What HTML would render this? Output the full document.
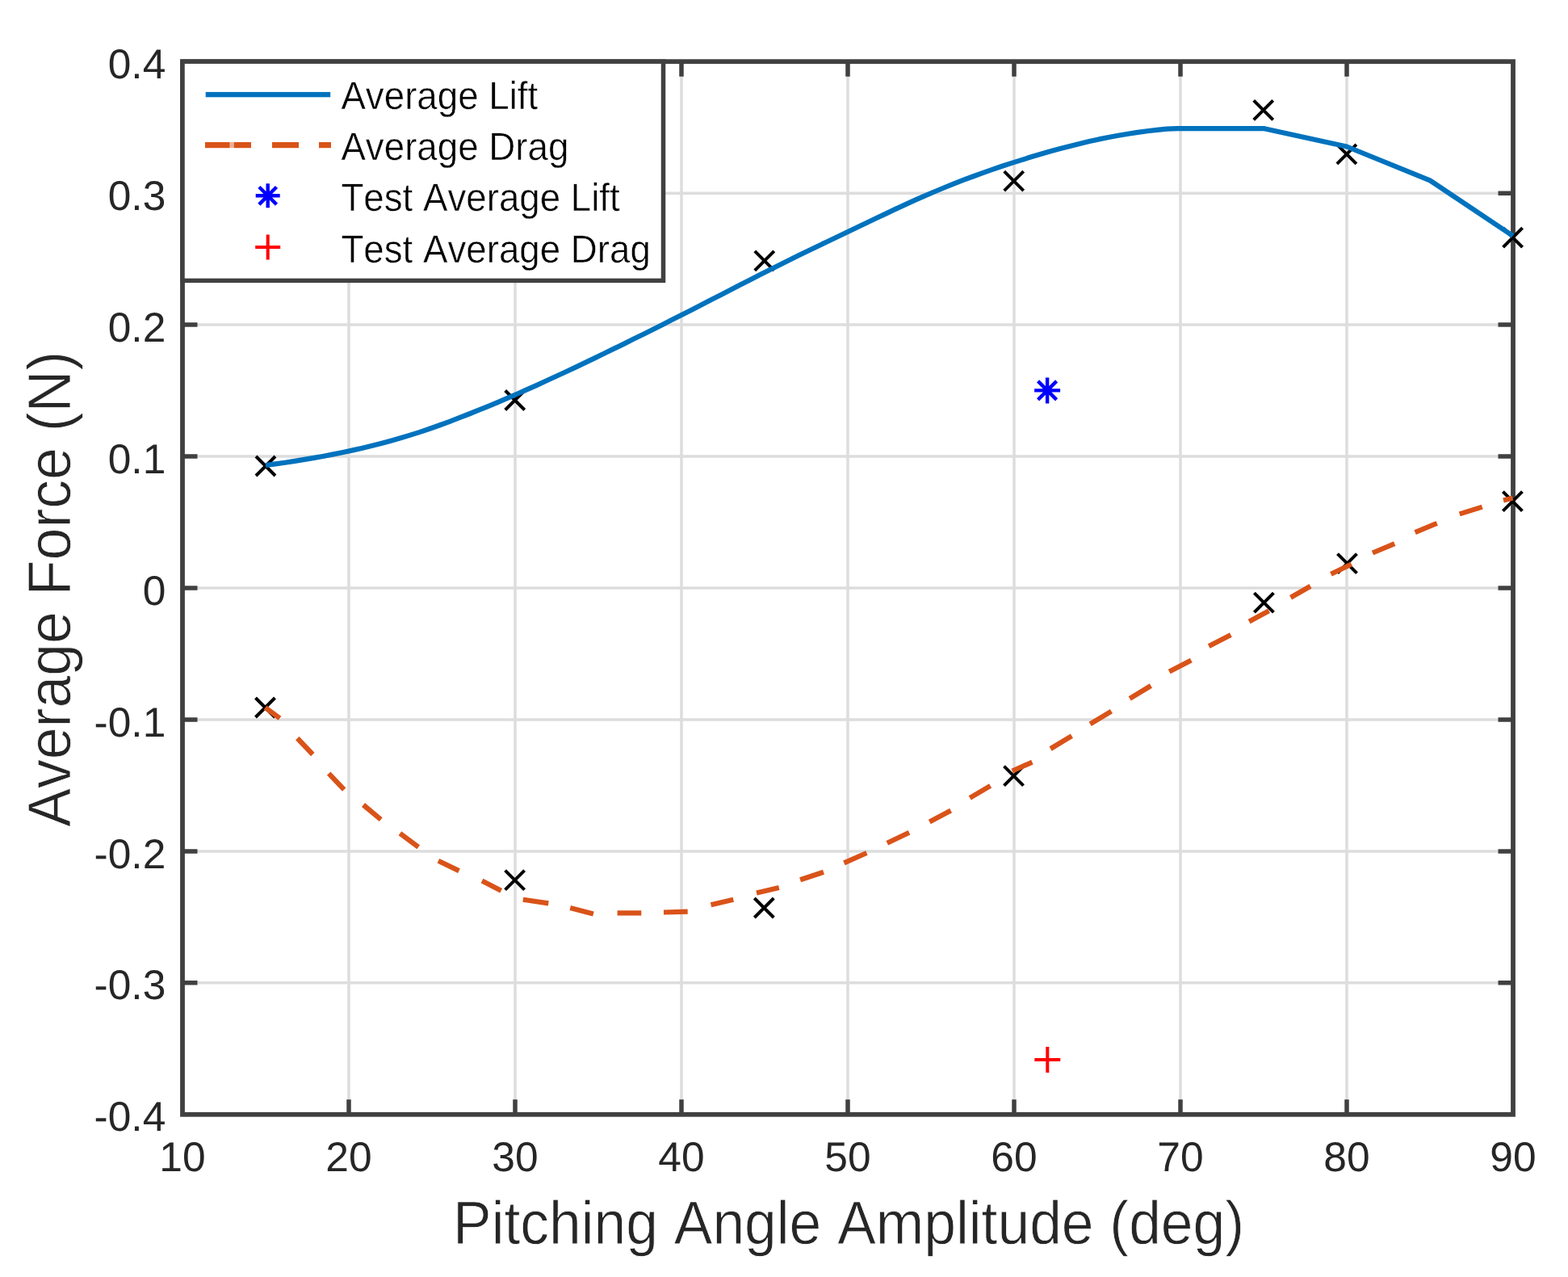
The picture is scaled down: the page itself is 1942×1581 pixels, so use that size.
<!DOCTYPE html><html><head><meta charset="utf-8"><style>html,body{margin:0;padding:0;background:#fff;overflow:hidden}svg{display:block}text{font-kerning:none;font-feature-settings:"kern" 0;text-rendering:geometricPrecision}</style></head><body>
<svg width="1942" height="1581" viewBox="0 0 1942 1581" font-family="'Liberation Sans', sans-serif">
<rect width="1942" height="1581" fill="#fff"/>
<path d="M432.0 76.2V1379.8M638.0 76.2V1379.8M844.0 76.2V1379.8M1050.0 76.2V1379.8M1256.0 76.2V1379.8M1462.0 76.2V1379.8M1668.0 76.2V1379.8M226.0 1216.8H1874.0M226.0 1053.9H1874.0M226.0 890.9H1874.0M226.0 728.0H1874.0M226.0 565.1H1874.0M226.0 402.1H1874.0M226.0 239.2H1874.0" stroke="#dddddd" stroke-width="3.5" fill="none"/>
<path d="M432.0 1379.8v-18.5M432.0 76.2v18.5M638.0 1379.8v-18.5M638.0 76.2v18.5M844.0 1379.8v-18.5M844.0 76.2v18.5M1050.0 1379.8v-18.5M1050.0 76.2v18.5M1256.0 1379.8v-18.5M1256.0 76.2v18.5M1462.0 1379.8v-18.5M1462.0 76.2v18.5M1668.0 1379.8v-18.5M1668.0 76.2v18.5M226.0 1216.8h18.5M1874.0 1216.8h-18.5M226.0 1053.9h18.5M1874.0 1053.9h-18.5M226.0 890.9h18.5M1874.0 890.9h-18.5M226.0 728.0h18.5M1874.0 728.0h-18.5M226.0 565.1h18.5M1874.0 565.1h-18.5M226.0 402.1h18.5M1874.0 402.1h-18.5M226.0 239.2h18.5M1874.0 239.2h-18.5" stroke="#404040" stroke-width="5.5" fill="none"/>
<rect x="226.0" y="76.2" width="1648.0" height="1303.6" fill="none" stroke="#404040" stroke-width="5.8"/>
<path d="M317 565L341 589M317 589L341 565M625.7 483.5L649.7 507.5M625.7 507.5L649.7 483.5M934.8 310.9L958.8 334.9M934.8 334.9L958.8 310.9M1243.7 212.2L1267.7 236.2M1243.7 236.2L1267.7 212.2M1552.7 124.4L1576.7 148.4M1552.7 148.4L1576.7 124.4M1655.9 178.8L1679.9 202.8M1655.9 202.8L1679.9 178.8M1861.6 282.2L1885.6 306.2M1861.6 306.2L1885.6 282.2M316.5 864L340.5 888M316.5 888L340.5 864M625.6 1077.7L649.6 1101.7M625.6 1101.7L649.6 1077.7M934.3 1112L958.3 1136M934.3 1136L958.3 1112M1243.5 948.6L1267.5 972.6M1243.5 972.6L1267.5 948.6M1553.4 734.2L1577.4 758.2M1553.4 758.2L1577.4 734.2M1656.5 685.7L1680.5 709.7M1656.5 709.7L1680.5 685.7M1861.4 608.6L1885.4 632.6M1861.4 632.6L1885.4 608.6" stroke="#000" stroke-width="4" fill="none"/>
<polyline points="329.0,576.0 341.0,574.4 353.0,572.7 365.0,570.9 377.0,568.9 389.0,566.9 401.0,564.7 413.0,562.4 425.0,560.0 437.0,557.4 449.0,554.7 461.0,551.8 473.0,548.7 485.0,545.4 497.0,542.0 509.0,538.4 521.0,534.6 533.0,530.5 545.0,526.3 557.0,521.8 569.0,517.2 581.0,512.5 593.0,507.7 605.0,502.8 617.0,497.8 629.0,492.7 641.0,487.5 653.0,482.2 665.0,476.8 677.0,471.3 689.0,465.8 701.0,460.2 713.0,454.6 725.0,448.9 737.0,443.1 749.0,437.3 761.0,431.4 773.0,425.6 785.0,419.6 797.0,413.7 809.0,407.7 821.0,401.7 833.0,395.6 845.0,389.5 857.0,383.4 869.0,377.3 881.0,371.1 893.0,365.0 905.0,358.8 917.0,352.6 929.0,346.4 941.0,340.3 953.0,334.2 965.0,328.2 977.0,322.2 989.0,316.3 1001.0,310.5 1013.0,304.7 1025.0,299.0 1037.0,293.3 1049.0,287.5 1061.0,281.8 1073.0,276.0 1085.0,270.3 1097.0,264.6 1109.0,258.9 1121.0,253.4 1133.0,247.9 1145.0,242.6 1157.0,237.5 1169.0,232.5 1181.0,227.6 1193.0,222.9 1205.0,218.5 1217.0,214.1 1229.0,209.9 1241.0,205.8 1253.0,201.9 1265.0,198.1 1277.0,194.3 1289.0,190.8 1301.0,187.3 1313.0,184.0 1325.0,180.9 1337.0,177.9 1349.0,175.1 1361.0,172.4 1373.0,170.0 1385.0,167.8 1397.0,165.7 1409.0,163.9 1421.0,162.3 1433.0,160.9 1445.0,159.6 1458.0,159.2 1566.0,159.2 1668.0,181.5 1771.0,223.3 1873.7,292.0" fill="none" stroke="#0072bd" stroke-width="6.2" stroke-linejoin="round"/>
<path d="M328.5 876L346.5 889.3M368.3 914L387.3 934M407.2 957.6L426.2 977.6M450 996.5L471.7 1014.6M495.4 1031.7L518.2 1048.7M542.9 1065.8L568.5 1078.1M597 1090.5L620.7 1102.8M647.8 1113.8L679.3 1118.4M706.2 1124L734.9 1131.4M764.6 1130.4L794.3 1130.4M822 1129.5L851.7 1128.6M880.5 1120.3L908.3 1113.8M937 1105.4L964.8 1098.9M991.1 1089.3L1020 1079.7M1045.4 1068.3L1073.4 1056M1098.8 1043.8L1126 1030.7M1151.3 1017.5L1177.6 1003.5M1201.2 987.8L1226.6 972.9M1253.7 954.5L1278.4 943.6M1301.1 927L1327.4 911.2M1350.2 896.3L1376.4 880.6M1399.2 864.8L1425.4 849M1448.2 831.5L1475.3 817.5M1497.2 800L1524.4 786M1547.1 769.4L1571.6 756.3M1598.5 739.7L1623 725.7M1648.4 710.8L1673.8 698.5M1700 684.5L1727.2 673.2M1752.6 659.2L1779.7 647.8M1807.7 636.4L1835.7 627.6M1862 619.5L1873.5 616.5" fill="none" stroke="#d95319" stroke-width="6.2" stroke-linecap="butt"/>
<path d="M1281.1 483.4H1313.1M1297.1 467.4V499.4M1285.6 471.9L1308.6 494.9M1285.6 494.9L1308.6 471.9" stroke="#0000ff" stroke-width="4.4" fill="none"/>
<path d="M1281.3 1311.9H1313.3M1297.3 1295.9V1327.9" stroke="#ff0000" stroke-width="4" fill="none"/>
<text transform="translate(226.00 1450.00)" font-size="51.5" fill="#262626" text-anchor="middle">10</text>
<text transform="translate(432.00 1450.00)" font-size="51.5" fill="#262626" text-anchor="middle">20</text>
<text transform="translate(638.00 1450.00)" font-size="51.5" fill="#262626" text-anchor="middle">30</text>
<text transform="translate(844.00 1450.00)" font-size="51.5" fill="#262626" text-anchor="middle">40</text>
<text transform="translate(1050.00 1450.00)" font-size="51.5" fill="#262626" text-anchor="middle">50</text>
<text transform="translate(1256.00 1450.00)" font-size="51.5" fill="#262626" text-anchor="middle">60</text>
<text transform="translate(1462.00 1450.00)" font-size="51.5" fill="#262626" text-anchor="middle">70</text>
<text transform="translate(1668.00 1450.00)" font-size="51.5" fill="#262626" text-anchor="middle">80</text>
<text transform="translate(1874.00 1450.00)" font-size="51.5" fill="#262626" text-anchor="middle">90</text>
<text transform="translate(205.30 96.80)" font-size="51.5" fill="#262626" text-anchor="end">0.4</text>
<text transform="translate(205.30 259.75)" font-size="51.5" fill="#262626" text-anchor="end">0.3</text>
<text transform="translate(205.30 422.70)" font-size="51.5" fill="#262626" text-anchor="end">0.2</text>
<text transform="translate(205.30 585.65)" font-size="51.5" fill="#262626" text-anchor="end">0.1</text>
<text transform="translate(205.30 748.60)" font-size="51.5" fill="#262626" text-anchor="end">0</text>
<text transform="translate(205.30 911.55)" font-size="51.5" fill="#262626" text-anchor="end">-0.1</text>
<text transform="translate(205.30 1074.50)" font-size="51.5" fill="#262626" text-anchor="end">-0.2</text>
<text transform="translate(205.30 1237.45)" font-size="51.5" fill="#262626" text-anchor="end">-0.3</text>
<text transform="translate(205.30 1400.40)" font-size="51.5" fill="#262626" text-anchor="end">-0.4</text>
<text transform="translate(1051.00 1539.50) scale(0.943 1.0)" font-size="75.7" fill="#262626" text-anchor="middle" stroke="#fff" stroke-width="0.8">Pitching Angle Amplitude (deg)</text>
<text transform="translate(87.00 729.30) rotate(-90) scale(0.951 1.0)" font-size="75.3" fill="#262626" text-anchor="middle" stroke="#fff" stroke-width="0.8">Average Force (N)</text>
<rect x="226" y="76.2" width="595.5" height="271.2" fill="#fff" stroke="#404040" stroke-width="5.5"/>
<rect x="254.7" y="113.9" width="154.5" height="6.4" fill="#0072bd"/>
<rect x="254" y="176" width="30.6" height="7.2" fill="#d95319"/>
<rect x="289.7" y="176" width="21.3" height="7.2" fill="#d95319"/>
<rect x="337" y="176" width="33.0" height="7.2" fill="#d95319"/>
<rect x="395" y="176" width="15.0" height="7.2" fill="#d95319"/>
<rect x="284.6" y="176" width="5.1" height="7.2" fill="#d95319" fill-opacity="0.45"/>
<path d="M316.7 242.3H346.7M331.7 227.3V257.3M320.9 231.5L342.5 253.1M320.9 253.1L342.5 231.5" stroke="#0000ff" stroke-width="4.4" fill="none"/>
<path d="M316.2 305.9H347.2M331.7 290.4V321.4" stroke="#ff0000" stroke-width="4" fill="none"/>
<text transform="translate(422.40 134.50) scale(0.942 1.0)" font-size="48.5" fill="#000" stroke="#fff" stroke-width="0.5">Average Lift</text>
<text transform="translate(422.40 197.90) scale(0.942 1.0)" font-size="48.5" fill="#000" stroke="#fff" stroke-width="0.5">Average Drag</text>
<text transform="translate(422.40 261.30) scale(0.942 1.0)" font-size="48.5" fill="#000" stroke="#fff" stroke-width="0.5">Test Average Lift</text>
<text transform="translate(422.40 324.70) scale(0.942 1.0)" font-size="48.5" fill="#000" stroke="#fff" stroke-width="0.5">Test Average Drag</text>
</svg></body></html>
